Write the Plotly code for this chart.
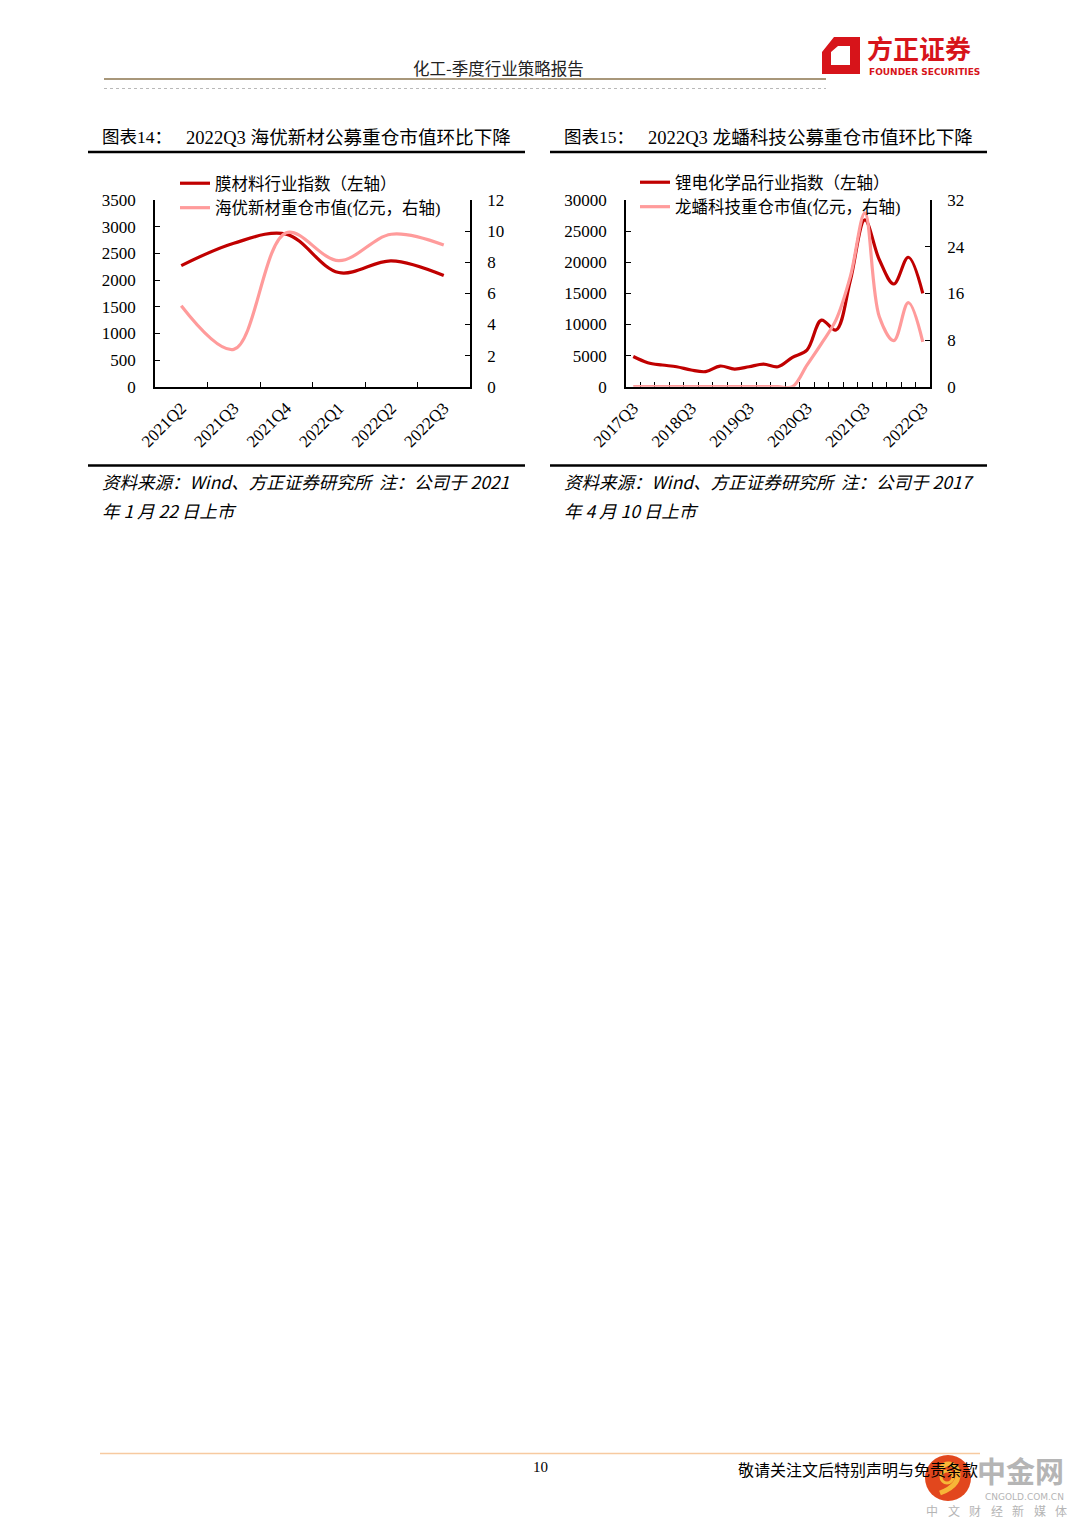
import plotly.graph_objects as go

# page is 1080x1527; the browser body keeps an 8px margin, so the figure is
# 1064x1511 and every page coordinate is offset by 8px.
PAGE_W, PAGE_H = 1080, 1527
OFF = 8
W, H = PAGE_W - 2 * OFF, PAGE_H - 2 * OFF

# ---------------- data ----------------
c1_categories = ["2021Q2", "2021Q3", "2021Q4", "2022Q1", "2022Q2", "2022Q3"]
c1_index = [2270, 2690, 2860, 2140, 2360, 2085]          # 膜材料行业指数（左轴）
c1_holding = [5.2, 2.4, 9.9, 8.1, 9.8, 9.1]              # 海优新材重仓市值（亿元，右轴）

c2_categories = ["2017Q3", "2017Q4", "2018Q1", "2018Q2", "2018Q3", "2018Q4", "2019Q1",
                 "2019Q2", "2019Q3", "2019Q4", "2020Q1", "2020Q2", "2020Q3", "2020Q4",
                 "2021Q1", "2021Q2", "2021Q3", "2021Q4", "2022Q1", "2022Q2", "2022Q3"]
c2_ticktext = ["2017Q3", "", "", "", "2018Q3", "", "", "", "2019Q3", "", "", "",
               "2020Q3", "", "", "", "2021Q3", "", "", "", "2022Q3"]
c2_index = [4850, 3860, 3480, 3210, 2680, 2420, 3320, 2840, 3210, 3640, 3210, 4710,
            5890, 10700, 9100, 17100, 26800, 20400, 16500, 20800, 15000]   # 锂电化学品行业指数
c2_holding = [0, 0, 0, 0, 0, 0, 0, 0, 0, 0, 0, 0,
              3.7, 7.4, 11.4, 18.9, 29.8, 12.0, 7.9, 14.4, 7.7]           # 龙蟠科技重仓市值

c1_yticks_left = [0, 3500, 500]
c1_yticks_right = [0, 12, 2]
c2_yticks_left = [0, 30000, 5000]
c2_yticks_right = [0, 32, 8]

DARK = "#C00000"
PINK = "#FF9B9B"
SERIF = "Liberation Serif, Noto Sans CJK SC"
CJK = "Noto Sans CJK SC"


def px(x):
    return (x - OFF) / W


def py(y):
    return 1 - (y - OFF) / H


fig = go.Figure()

fig.add_trace(go.Scatter(x=c1_categories, y=c1_index, name="膜材料行业指数（左轴）",
                         mode="lines", line=dict(color=DARK, width=3.2, shape="spline"),
                         xaxis="x", yaxis="y", legend="legend"))
fig.add_trace(go.Scatter(x=c1_categories, y=c1_holding, name="海优新材重仓市值(亿元，右轴)",
                         mode="lines", line=dict(color=PINK, width=3.2, shape="spline"),
                         xaxis="x", yaxis="y2", legend="legend"))
fig.add_trace(go.Scatter(x=c2_categories, y=c2_index, name="锂电化学品行业指数（左轴）",
                         mode="lines", line=dict(color=DARK, width=3.2, shape="spline"),
                         xaxis="x2", yaxis="y3", legend="legend2"))
fig.add_trace(go.Scatter(x=c2_categories, y=c2_holding, name="龙蟠科技重仓市值(亿元，右轴)",
                         mode="lines", line=dict(color=PINK, width=3.2, shape="spline"),
                         xaxis="x2", yaxis="y4", legend="legend2"))

tickfont = dict(family=SERIF, size=17, color="black")
axis_common = dict(showline=True, linecolor="black", linewidth=1.6, ticks="inside",
                   ticklen=5, tickwidth=1.4, tickcolor="black", showgrid=False,
                   zeroline=False, tickfont=tickfont, fixedrange=True,
                   automargin=False, layer="below traces")

ydom = [py(386.7), py(200)]

fig.update_layout(
    width=W, height=H,
    margin=dict(l=0, r=0, t=0, b=0, pad=0, autoexpand=False),
    paper_bgcolor="white", plot_bgcolor="rgba(0,0,0,0)",
    font=dict(family=SERIF, color="black"),
    xaxis=dict(domain=[px(155), px(470)], anchor="y", type="category",
               range=[-0.5, len(c1_categories) - 0.5],
               tickson="boundaries", tickangle=-45, ticklabelstandoff=3,
               **axis_common),
    yaxis=dict(domain=ydom, anchor="x", range=c1_yticks_left[:2], dtick=c1_yticks_left[2],
               tickformat="d", ticklabelstandoff=14, **axis_common),
    yaxis2=dict(overlaying="y", side="right", anchor="x", range=c1_yticks_right[:2],
                dtick=c1_yticks_right[2], ticklabelstandoff=12, **axis_common),
    xaxis2=dict(domain=[px(626), px(930)], anchor="y3", type="category",
                range=[-0.5, len(c2_categories) - 0.5],
                tickson="boundaries", tickangle=-45, tickmode="array",
                tickvals=c2_categories, ticktext=c2_ticktext, ticklabelstandoff=3,
                **axis_common),
    yaxis3=dict(domain=ydom, anchor="x2", range=c2_yticks_left[:2], dtick=c2_yticks_left[2],
                tickformat="d", ticklabelstandoff=14, **axis_common),
    yaxis4=dict(overlaying="y3", side="right", anchor="x2", range=c2_yticks_right[:2],
                dtick=c2_yticks_right[2], ticklabelstandoff=12, **axis_common),
    legend=dict(x=px(175), y=py(166), xanchor="left", yanchor="top",
                bgcolor="rgba(0,0,0,0)", font=dict(family=SERIF, size=16.5),
                itemwidth=30, tracegroupgap=0, traceorder="normal"),
    legend2=dict(x=px(635), y=py(165), xanchor="left", yanchor="top",
                 bgcolor="rgba(0,0,0,0)", font=dict(family=SERIF, size=16.5),
                 itemwidth=30, tracegroupgap=0, traceorder="normal"),
    showlegend=True,
)

shapes = []
annotations = []


def hline(x0, x1, y, color="black", width=2, dash="solid"):
    shapes.append(dict(type="line", xref="paper", yref="paper", x0=px(x0), x1=px(x1),
                       y0=py(y), y1=py(y), line=dict(color=color, width=width, dash=dash)))


def text(x, y, s, size=15, family=SERIF, color="black", xanchor="left", italic=False,
         weight="normal"):
    annotations.append(dict(xref="paper", yref="paper", x=px(x), y=py(y), text=s,
                            showarrow=False, xanchor=xanchor, yanchor="middle",
                            font=dict(size=size, family=family, color=color,
                                      style="italic" if italic else "normal",
                                      weight=weight)))


# header
text(498, 68, "化工-季度行业策略报告", size=16.5, family=CJK, color="#222", xanchor="center")
hline(104, 826, 79, color="#a8977a", width=2.2)
hline(104, 826, 88.5, color="#b9b9b9", width=1, dash="dot")

# logo
shapes.append(dict(type="path", xref="paper", yref="paper",
                   path=(f"M {px(834)},{py(37)} L {px(860)},{py(37)} L {px(860)},{py(74)} "
                         f"L {px(822)},{py(74)} L {px(822)},{py(52)} Z "
                         f"M {px(831)},{py(52)} L {px(831)},{py(65)} L {px(850)},{py(65)} "
                         f"L {px(850)},{py(46)} L {px(838)},{py(46)} Z"),
                   fillcolor="#D7141A", line=dict(width=0)))
text(865, 48, "方正证券", size=26, family=CJK, color="#D7141A", weight="bold")
text(867, 72.5, "FOUNDER SECURITIES", size=9, family="DejaVu Sans", color="#D7141A",
     weight="bold")

# chart titles and rules
text(100, 137, "图表14：", size=17.5)
text(184, 137, "2022Q3 海优新材公募重仓市值环比下降", size=18.6)
text(562, 137, "图表15：", size=17.5)
text(646, 137, "2022Q3 龙蟠科技公募重仓市值环比下降", size=18.6)
hline(88, 525, 152, width=2.4)
hline(550, 987, 152, width=2.4)
hline(88, 525, 465.5, width=2.4)
hline(550, 987, 465.5, width=2.4)

# footnotes
text(100, 482, "资料来源：Wind、方正证券研究所  注：公司于 2021", size=17.5, family=CJK,
     italic=True)
text(100, 510, "年 1 月 22 日上市", size=17.5, family=CJK, italic=True)
text(562, 482, "资料来源：Wind、方正证券研究所  注：公司于 2017", size=17.5, family=CJK,
     italic=True)
text(562, 510, "年 4 月 10 日上市", size=17.5, family=CJK, italic=True)

# page footer
hline(100, 980, 1453.5, color="#f7caa0", width=1.6)
text(540, 1467, "10", size=15, xanchor="center")
text(736, 1469, "敬请关注文后特别声明与免责条款", size=16, family=CJK)

# watermark (logo drawn with shapes)
shapes.append(dict(type="circle", xref="paper", yref="paper",
                   x0=px(925), x1=px(971), y0=py(1501), y1=py(1455),
                   fillcolor="#E2471D", line=dict(width=0)))
shapes.append(dict(type="path", xref="paper", yref="paper",
                   path=(f"M {px(940)},{py(1469)} Q {px(948)},{py(1459)} {px(957)},{py(1469)} "
                         f"Q {px(962)},{py(1485)} {px(940)},{py(1493)}"),
                   line=dict(color="#F7B637", width=5)))
shapes.append(dict(type="circle", xref="paper", yref="paper",
                   x0=px(941), x1=px(953), y0=py(1483), y1=py(1471),
                   line=dict(color="#F7B637", width=3)))
text(1020, 1470, "中金网", size=29, family=CJK, color="#b5b5b5", xanchor="center",
     weight="bold")
text(1024, 1497, "CNGOLD.COM.CN", size=9, family="DejaVu Sans", color="#b5b5b5",
     xanchor="center")
for i, ch in enumerate("中文财经新媒体"):
    text(932 + i * 21.5, 1510.5, ch, size=12, family=CJK, color="#b5b5b5",
         xanchor="center")

fig.update_layout(shapes=shapes, annotations=annotations)

fig.write_html("out.html")
